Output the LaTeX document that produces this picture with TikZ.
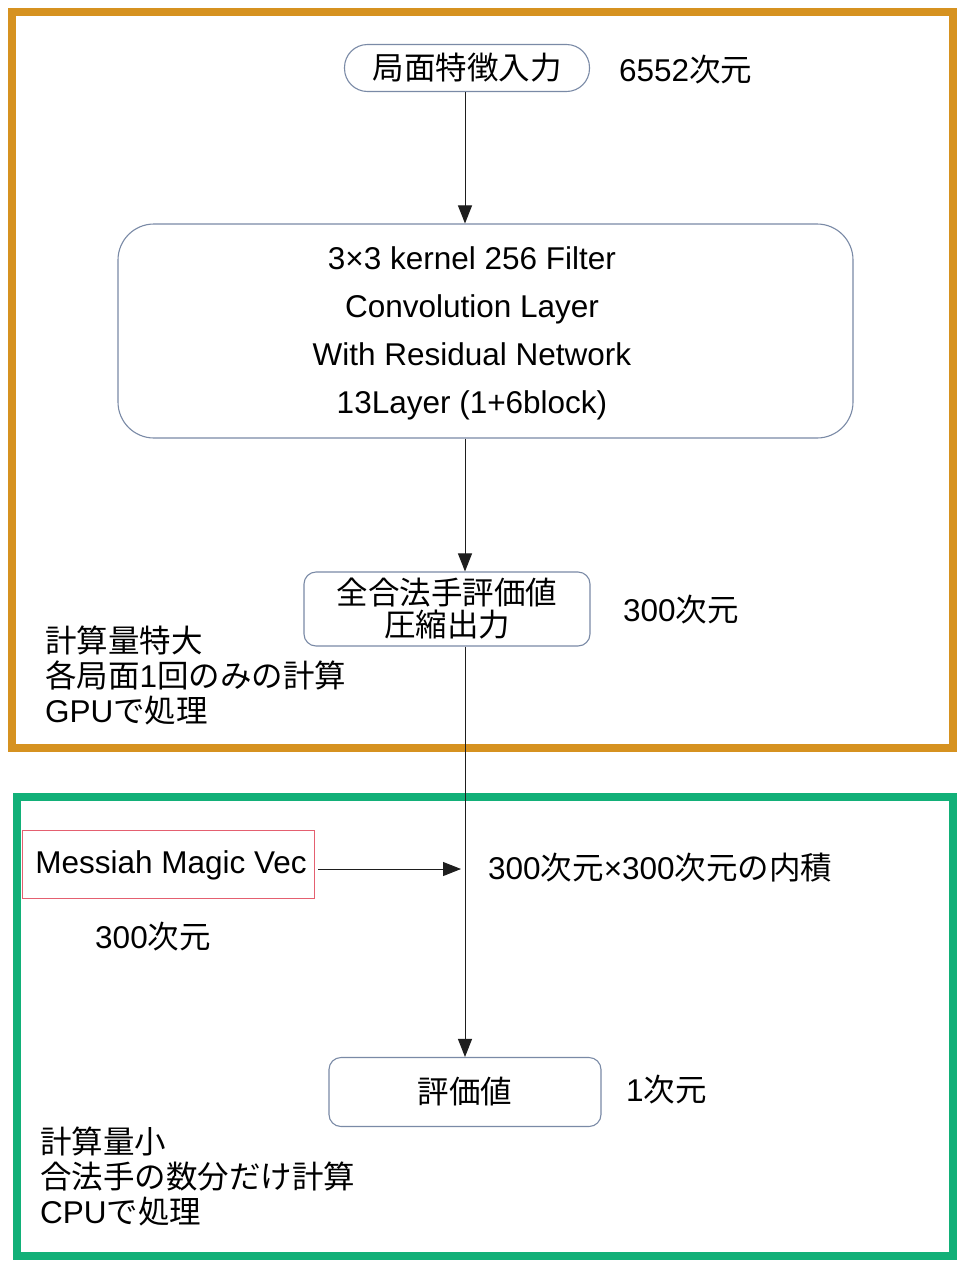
\documentclass[tikz,border=0pt]{standalone}
\usepackage{fontspec}
\setmainfont{Liberation Sans}
\newfontfamily\cjk{Noto Sans CJK JP}
\usetikzlibrary{arrows.meta}
\definecolor{orangeframe}{RGB}{214,146,32}
\definecolor{greenframe}{RGB}{18,176,120}
\definecolor{boxline}{RGB}{122,138,166}
\definecolor{redline}{RGB}{228,96,112}
\definecolor{arrcol}{RGB}{30,30,30}
\newcommand{\J}[1]{{\cjk #1}}
\tikzset{
  frameline/.style={line width=8pt},
  procbox/.style={draw=boxline, line width=1.1pt, fill=white, rounded corners=12pt, inner sep=0pt},
  txt/.style={font=\fontsize{31.5}{35}\selectfont, inner sep=0pt, align=left},
  ctxt/.style={font=\fontsize{31.5}{35}\selectfont, inner sep=0pt, align=center},
  arr/.style={draw=arrcol, line width=1pt, -{Triangle[length=18pt,width=14pt]}},
}
\begin{document}
\begin{tikzpicture}[x=1pt,y=-1pt]
\useasboundingbox (0,0) rectangle (956,1261);
\fill[white] (0,0) rectangle (956,1261);
% frames
\draw[frameline, draw=orangeframe] (12,12) rectangle (953,748);
\draw[frameline, draw=greenframe] (17,797) rectangle (953,1256);
\coordinate (cx) at (465,0);
% nodes
\node[procbox, rounded corners=23pt, minimum width=245pt, minimum height=47pt] (inp) at (467,68) {};
\node[ctxt] (inpt) at (467,68) {\J{局面特徴入力}};
\node[txt, anchor=west] (inpd) at (619,70) {6552\J{次元}};

\node[procbox, rounded corners=36pt, minimum width=735pt, minimum height=214pt] (conv) at (485.5,331) {};
\node[ctxt, font=\fontsize{31.5}{48}\selectfont] (convt) at (472,333) {3×3 kernel 256 Filter\\Convolution Layer\\With Residual Network\\13Layer (1+6block)};

\node[procbox, minimum width=286pt, minimum height=74pt] (cmp) at (447,609) {};
\node[ctxt, font=\fontsize{31.5}{32}\selectfont] (cmpt) at (447,609) {\J{全合法手評価値}\\\J{圧縮出力}};
\node[txt, anchor=west] (cmpd) at (623,610) {300\J{次元}};

\node[txt, anchor=north west, font=\fontsize{31.5}{35}\selectfont] (gpu) at (45,626) {\J{計算量特大}\\\J{各局面}1\J{回のみの計算}\\GPU\J{で処理}};

\node[draw=redline, line width=0.8pt, minimum width=292pt, minimum height=68pt, inner sep=0pt] (mv) at (168,864) {};
\node[txt] (mvt) at (171,865) {Messiah Magic Vec};
\node[txt] (mvd) at (153,937) {300\J{次元}};
\coordinate (ip) at (461,869);
\node[txt, anchor=west] (ipt) at (488,868) {300\J{次元}×300\J{次元の内積}};

\node[procbox, minimum width=272pt, minimum height=69pt] (ev) at (465,1092) {};
\node[ctxt] (evt) at (465,1092) {\J{評価値}};
\node[txt, anchor=west] (evd) at (626,1090) {1\J{次元}};

\node[txt, anchor=north west, font=\fontsize{31.5}{35}\selectfont] (cpu) at (40,1127) {\J{計算量小}\\\J{合法手の数分だけ計算}\\CPU\J{で処理}};

% connectors
\draw[arr] (inp.south -| cx) -- (conv.north -| cx);
\draw[arr] (conv.south -| cx) -- (cmp.north -| cx);
\draw[arr] (cmp.south -| cx) -- (ev.north -| cx);
\draw[arr] ([xshift=4pt]mv.east |- ip) -- (ip);
\end{tikzpicture}
\end{document}
